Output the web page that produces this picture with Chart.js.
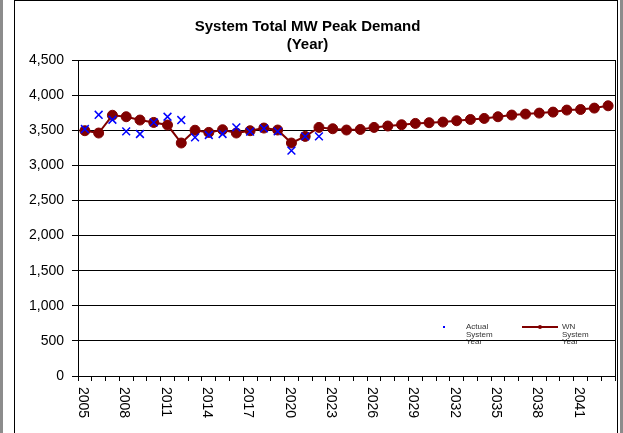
<!DOCTYPE html>
<html>
<head>
<meta charset="utf-8">
<title>System Total MW Peak Demand</title>
<script src="https://cdn.jsdelivr.net/npm/chart.js@4.4.1/dist/chart.umd.min.js"></script>
<style>
  html, body { margin: 0; padding: 0; background: #fff; overflow: hidden; }
  #wrap { position: relative; width: 623px; height: 433px; }
  .side { position: absolute; top: 0; width: 3px; height: 433px; background: #8c8c8c; }
  #frame { position: absolute; left: 14px; top: 0; width: 602px; height: 440px; border: 1px solid #000; }
  canvas { position: absolute; left: 0; top: 0; }
</style>
</head>
<body>
<div id="wrap">
  <div class="side" style="left:0"></div>
  <div class="side" style="left:620px"></div>
  <div id="frame"></div>
  <canvas id="peakChart" width="623" height="433"></canvas>
</div>
<script>
// Years on the category axis
const years = [
    '2005', '2006', '2007', '2008', '2009', '2010', '2011', '2012', '2013', '2014',
    '2015', '2016', '2017', '2018', '2019', '2020', '2021', '2022', '2023', '2024',
    '2025', '2026', '2027', '2028', '2029', '2030', '2031', '2032', '2033', '2034',
    '2035', '2036', '2037', '2038', '2039', '2040', '2041', '2042', '2043'
];

// Only every third year gets a label
const shownYears = ['2005', '2008', '2011', '2014', '2017', '2020', '2023', '2026', '2029', '2032', '2035', '2038', '2041'];

// Actual system peak (MW), history only
const actualPeak = [
    3517, 3720, 3649, 3483, 3446, 3611, 3692, 3645, 3398, 3432,
    3446, 3540, 3479, 3526, 3483, 3209, 3412, 3412
];

// Weather normalized system peak (MW), history + forecast
const wnPeak = [
    3493, 3460, 3713, 3692, 3645, 3611, 3574, 3318, 3500, 3469,
    3507, 3460, 3493, 3531, 3503, 3318, 3412, 3540, 3521, 3503,
    3511, 3540, 3560, 3578, 3597, 3607, 3616, 3635, 3653, 3668,
    3692, 3716, 3730, 3744, 3758, 3787, 3795, 3815, 3848
];

const FONT = '"Liberation Sans", Arial, sans-serif';

// Vertical year labels, reading top to bottom
const yearLabels = {
    id: 'yearLabels',
    afterDraw(chart) {
        const ctx = chart.ctx;
        const xScale = chart.scales.x;
        ctx.save();
        ctx.font = '14px ' + FONT;
        ctx.fillStyle = '#000';
        ctx.textAlign = 'left';
        ctx.textBaseline = 'middle';
        years.forEach((yr, i) => {
            if (!shownYears.includes(yr)) return;
            ctx.save();
            ctx.translate(xScale.getPixelForValue(i) - 2, xScale.top + 11);
            ctx.rotate(Math.PI / 2);
            ctx.fillText(yr, 0, 0);
            ctx.restore();
        });
        // right edge of the plot area
        const area = chart.chartArea;
        ctx.strokeStyle = '#000';
        ctx.lineWidth = 1;
        ctx.beginPath();
        ctx.moveTo(Math.round(area.right) + 0.5, area.top);
        ctx.lineTo(Math.round(area.right) + 0.5, area.bottom);
        ctx.stroke();
        ctx.restore();
    }
};

// Small legend inside the plot, drawn under the grid lines
const innerLegend = {
    id: 'innerLegend',
    beforeDraw(chart) {
        const ctx = chart.ctx;
        const area = chart.chartArea;
        const y0 = area.bottom - 49;
        ctx.save();
        ctx.font = '8px ' + FONT;
        ctx.fillStyle = '#333';
        ctx.textAlign = 'left';
        ctx.textBaseline = 'middle';

        // Actual: tiny blue dot
        const ax = area.left + 366;
        ctx.fillStyle = '#0000ff';
        ctx.fillRect(ax - 1, y0 - 1, 2, 2);
        ctx.fillStyle = '#333';
        chart.data.datasets[0].label.split(' ').forEach((w, k) => {
            ctx.fillText(w, ax + 22, y0 + k * 7.5);
        });

        // WN: line with a dot
        const wx = area.left + 444;
        ctx.strokeStyle = '#800000';
        ctx.lineWidth = 2;
        ctx.beginPath();
        ctx.moveTo(wx, y0);
        ctx.lineTo(wx + 36, y0);
        ctx.stroke();
        ctx.fillStyle = '#800000';
        ctx.beginPath();
        ctx.arc(wx + 18, y0, 2, 0, Math.PI * 2);
        ctx.fill();
        ctx.fillStyle = '#333';
        chart.data.datasets[1].label.split(' ').forEach((w, k) => {
            ctx.fillText(w, wx + 40, y0 + k * 7.5);
        });
        ctx.restore();
    }
};

const ctx = document.getElementById('peakChart').getContext('2d');
new Chart(ctx, {
    type: 'line',
    data: {
        labels: years,
        datasets: [
            {
                label: 'Actual System Year',
                data: actualPeak,
                showLine: false,
                pointStyle: 'crossRot',
                pointRadius: 5.5,
                pointBorderWidth: 1.5,
                borderColor: '#0000ff',
                backgroundColor: '#0000ff'
            },
            {
                label: 'WN System Year',
                data: wnPeak,
                borderColor: '#800000',
                backgroundColor: '#800000',
                borderWidth: 2,
                pointRadius: 5,
                pointBorderWidth: 1,
                tension: 0
            }
        ]
    },
    options: {
        responsive: false,
        animation: false,
        layout: { padding: { top: 8, right: 8, left: 0, bottom: 0 } },
        plugins: {
            legend: { display: false },
            tooltip: { enabled: false },
            title: {
                display: true,
                text: ['System Total MW Peak Demand', '(Year)'],
                color: '#000',
                font: { family: FONT, size: 15, weight: 'bold', lineHeight: 1.2 },
                padding: { top: 10, bottom: 6 }
            }
        },
        scales: {
            x: {
                offset: true,
                grid: {
                    offset: true,
                    drawOnChartArea: false,
                    drawTicks: true,
                    tickLength: 5,
                    color: '#000'
                },
                border: { color: '#000' },
                ticks: { display: false, autoSkip: false },
                afterFit(scale) { scale.height = 57; }
            },
            y: {
                min: 0,
                max: 4500,
                ticks: {
                    stepSize: 500,
                    color: '#000',
                    padding: 8,
                    font: { family: FONT, size: 14 }
                },
                grid: { color: '#000', tickLength: 6 },
                border: { color: '#000' },
                afterFit(scale) { scale.width = 78; }
            }
        }
    },
    plugins: [yearLabels, innerLegend]
});
</script>
</body>
</html>
